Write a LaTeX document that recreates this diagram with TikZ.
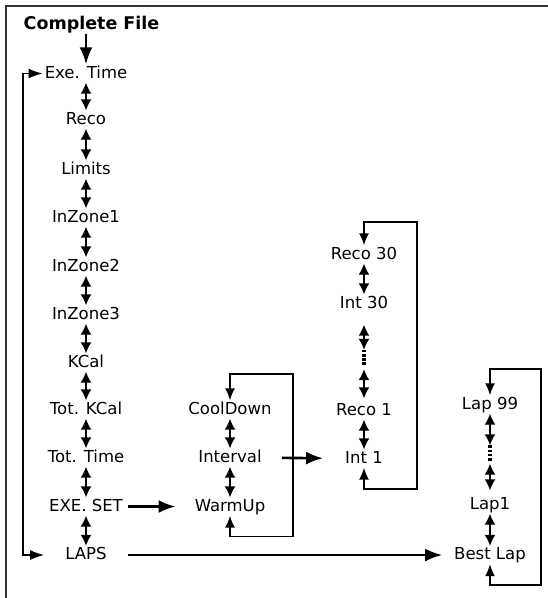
\documentclass[tikz,border=0pt]{standalone}
\usepackage{fontspec}
\setmainfont{DejaVu Sans}
\usetikzlibrary{arrows.meta, calc}

\begin{document}
\begin{tikzpicture}[
    x=1pt, y=-1pt,
    entry/.style={inner xsep=0pt, inner ysep=1.5pt, text height=12pt, text depth=3pt,
                  font=\fontsize{16.5}{19}\selectfont},
    title/.style={entry, font=\fontsize{17.5}{20}\selectfont\bfseries},
    dotsbox/.style={inner sep=0pt, minimum width=3pt, minimum height=15pt},
    updown/.style={{Latex[length=11pt,width=11pt]}-{Latex[length=11pt,width=11pt]}, line width=1.4pt},
    loopline/.style={{Latex[length=12pt,width=10pt]}-{Latex[length=12pt,width=10pt]}, line width=1.5pt},
    jump/.style={-{Latex[length=17pt,width=13pt]}, line width=#1},
    dotline/.style={line width=3.2pt, dash pattern=on 2.6pt off 1.6pt},
    frame/.style={line width=1.4pt, black!80}
]
    \useasboundingbox (0,0) rectangle (548,598);
    \draw[frame] (6,598) |- (548,6);

    % Main menu
    \node[title] (complete) at (91.5,24.5) {Complete File};
    \node[entry] (exe) at (86,73.5) {Exe. Time};
    \node[entry] (reco) at (86,119.5) {Reco};
    \node[entry] (limits) at (86,169.5) {Limits};
    \node[entry] (zone1) at (86,217.5) {InZone1};
    \node[entry] (zone2) at (86,266.5) {InZone2};
    \node[entry] (zone3) at (86,314.5) {InZone3};
    \node[entry] (kcal) at (86,362.5) {KCal};
    \node[entry] (totkcal) at (86,409.5) {Tot. KCal};
    \node[entry] (tottime) at (86,457.5) {Tot. Time};
    \node[entry] (exeset) at (86,506.5) {EXE. SET};
    \node[entry] (laps) at (86,555) {LAPS};

    \draw[jump=2.4pt] (exe.north |- complete.south) -- (exe.north);
    \draw[updown] (exe) -- (reco);
    \draw[updown] (reco) -- (limits);
    \draw[updown] (limits) -- (zone1);
    \draw[updown] (zone1) -- (zone2);
    \draw[updown] (zone2) -- (zone3);
    \draw[updown] (zone3) -- (kcal);
    \draw[updown] (kcal) -- (totkcal);
    \draw[updown] (totkcal) -- (tottime);
    \draw[updown] (tottime) -- (exeset);
    \draw[updown] (exeset) -- (laps);
    \draw[loopline, {Latex[length=14pt,width=10pt]}-{Latex[length=14pt,width=10pt]},
          shorten <=21pt, shorten >=2pt] (laps.west) -| (23,73.5) -- (exe.west);

    % Exercise set
    \node[entry] (cool) at (230,409.5) {CoolDown};
    \node[entry] (interval) at (230,457.5) {Interval};
    \node[entry] (warm) at (230,506.5) {WarmUp};

    \draw[updown] (cool) -- (interval);
    \draw[updown] (interval) -- (warm);
    \draw[loopline] (warm.south) -- ++(0,21) -| (293,374) -| (cool.north);
    \draw[jump=2.6pt, shorten <=5pt, shorten >=19pt] (exeset) -- (warm);

    % Intervals
    \node[entry] (reco30) at (364,254.5) {Reco 30};
    \node[entry] (int30) at (364,303.5) {Int 30};
    \node[dotsbox] (skip1) at (364,357.5) {};
    \node[entry] (reco1) at (364,410.5) {Reco 1};
    \node[entry] (int1) at (364,458.5) {Int 1};

    \draw[updown] (reco30) -- (int30);
    \draw[updown, shorten <=12pt] (int30) -- (skip1);
    \draw[dotline] (skip1.north) -- (skip1.south);
    \draw[updown, shorten <=4pt, shorten >=3pt] (skip1) -- (reco1);
    \draw[updown] (reco1) -- (int1);
    \draw[loopline] (int1.south) -- ++(0,21.5) -| (417,222) -| (reco30.north);
    \draw[jump=2.6pt, shorten <=20pt, shorten >=22pt] (interval) -- (int1);

    % Laps
    \node[entry] (lap99) at (490,404.5) {Lap 99};
    \node[dotsbox] (skip2) at (490,453) {};
    \node[entry] (lap1) at (490,504.5) {Lap1};
    \node[entry] (best) at (490,555) {Best Lap};

    \draw[updown] (lap99) -- (skip2);
    \draw[dotline] (skip2.north) -- (skip2.south);
    \draw[updown, shorten <=3pt, shorten >=5pt] (skip2) -- (lap1);
    \draw[updown] (lap1) -- (best);
    \draw[loopline] (best.south) -- ++(0,21) -| (541,369) -| (lap99.north);
    \draw[jump=2pt, shorten <=21.5pt, shorten >=12pt] (laps) -- (best);
\end{tikzpicture}
\end{document}
